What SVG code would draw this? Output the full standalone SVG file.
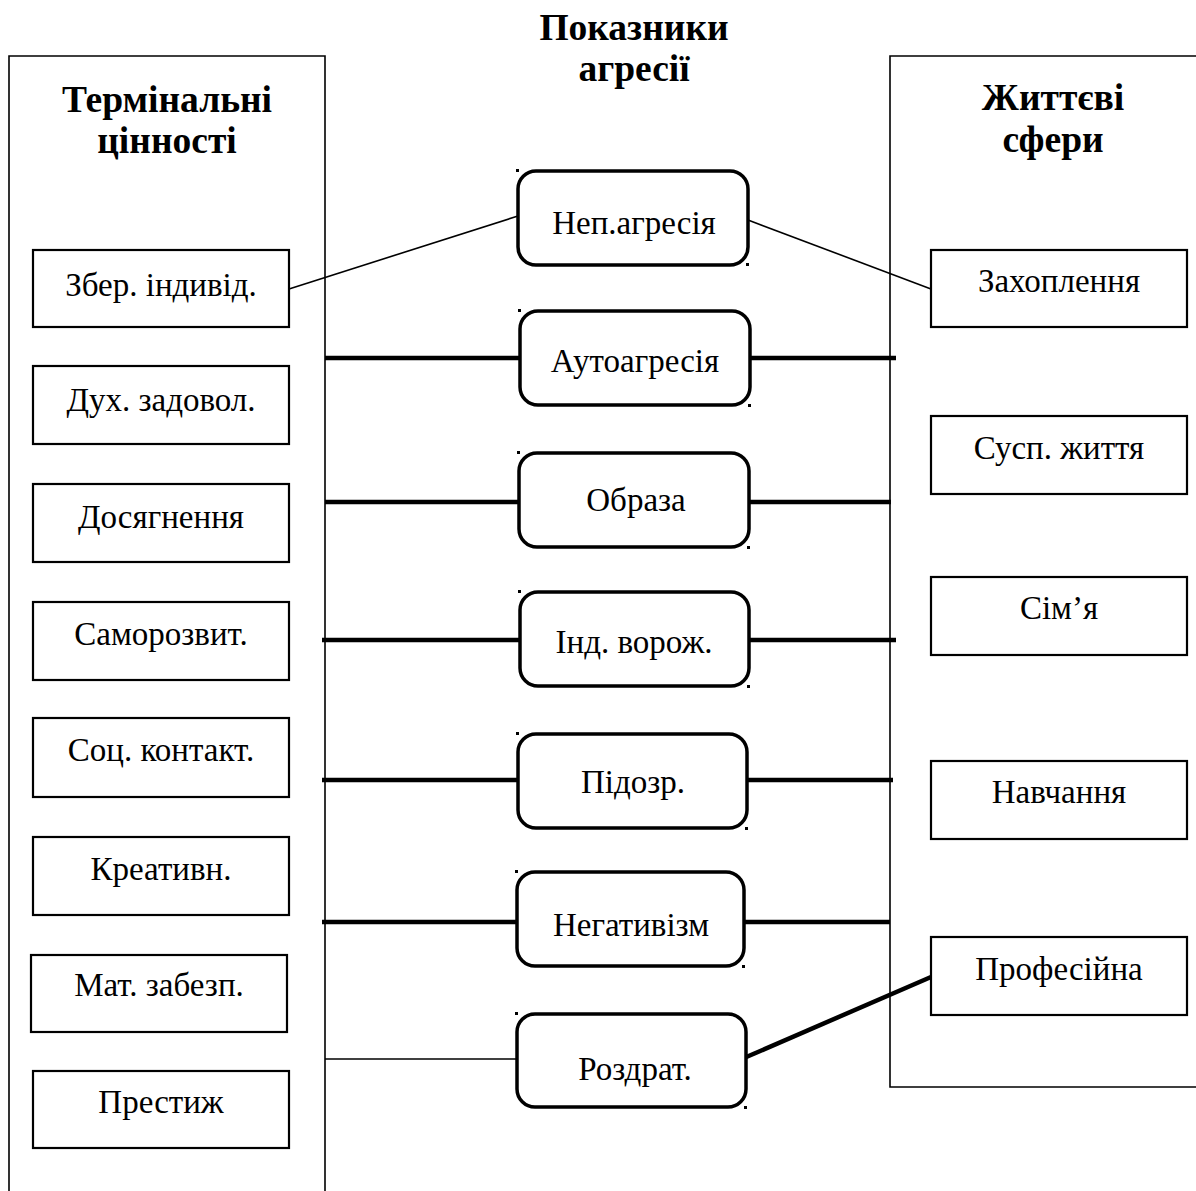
<svg xmlns="http://www.w3.org/2000/svg" width="1196" height="1191" viewBox="0 0 1196 1191">
<style>
.bg{fill:#fff}
.panel{fill:none;stroke:#000;stroke-width:1.6}
.box{fill:#fff;stroke:#000;stroke-width:2.2}
.rbox{fill:#fff;stroke:#000;stroke-width:3.5}
.dot{fill:#000}
.t{font-family:"Liberation Serif","Times New Roman",serif;font-size:33px;fill:#000;text-anchor:middle}
.h{font-family:"Liberation Serif","Times New Roman",serif;font-size:37.5px;font-weight:bold;fill:#000;text-anchor:middle}
.thin{stroke:#000;stroke-width:1.6;fill:none}
.thick{stroke:#000;stroke-width:4.5;fill:none}
</style>
<rect class="bg" x="0" y="0" width="1196" height="1191"/>
<g id="panel-left">
<path class="panel" d="M9,1195 V56 H325 V1195"/>
<text class="h" x="167" y="112">Термінальні</text>
<text class="h" x="167" y="153">цінності</text>
</g>
<g id="panel-right">
<path class="panel" d="M1200,1087 H890 V56 H1200"/>
<text class="h" x="1053" y="110">Життєві</text>
<text class="h" x="1053" y="152">сфери</text>
</g>
<g id="title">
<text class="h" x="634" y="40">Показники</text>
<text class="h" x="634" y="81">агресії</text>
</g>
<g id="connectors">
<line class="thin" x1="289" y1="289" x2="518" y2="216"/>
<line class="thin" x1="748" y1="220" x2="931" y2="289"/>
<line class="thick" x1="325" y1="358" x2="524" y2="358"/>
<line class="thick" x1="749" y1="358" x2="896" y2="358"/>
<line class="thick" x1="325" y1="502" x2="523" y2="502"/>
<line class="thick" x1="747" y1="502" x2="891" y2="502"/>
<line class="thick" x1="322" y1="640" x2="524" y2="640"/>
<line class="thick" x1="748" y1="640" x2="896" y2="640"/>
<line class="thick" x1="322" y1="780" x2="522" y2="780"/>
<line class="thick" x1="746" y1="780" x2="893" y2="780"/>
<line class="thick" x1="322" y1="922" x2="521" y2="922"/>
<line class="thick" x1="743" y1="922" x2="890" y2="922"/>
<line class="thin" x1="325" y1="1059" x2="517" y2="1059"/>
<line class="thick" x1="744" y1="1058" x2="931" y2="977"/>
</g>
<g id="n-zber"><rect class="box" x="33" y="250" width="256" height="77"/><text class="t" x="161" y="296">Збер. індивід.</text></g>
<g id="n-dukh"><rect class="box" x="33" y="366" width="256" height="78"/><text class="t" x="161" y="411">Дух. задовол.</text></g>
<g id="n-dosyag"><rect class="box" x="33" y="484" width="256" height="78"/><text class="t" x="161" y="528">Досягнення</text></g>
<g id="n-samoroz"><rect class="box" x="33" y="602" width="256" height="78"/><text class="t" x="161" y="645">Саморозвит.</text></g>
<g id="n-sots"><rect class="box" x="33" y="718" width="256" height="79"/><text class="t" x="161" y="761">Соц. контакт.</text></g>
<g id="n-kreat"><rect class="box" x="33" y="837" width="256" height="78"/><text class="t" x="161" y="880">Креативн.</text></g>
<g id="n-mat"><rect class="box" x="31" y="955" width="256" height="77"/><text class="t" x="159" y="996">Мат. забезп.</text></g>
<g id="n-prestyzh"><rect class="box" x="33" y="1071" width="256" height="77"/><text class="t" x="161" y="1113">Престиж</text></g>
<g id="n-zakhopl"><rect class="box" x="931" y="250" width="256" height="77"/><text class="t" x="1059" y="292">Захоплення</text></g>
<g id="n-susp"><rect class="box" x="931" y="416" width="256" height="78"/><text class="t" x="1059" y="459">Сусп. життя</text></g>
<g id="n-simya"><rect class="box" x="931" y="577" width="256" height="78"/><text class="t" x="1059" y="619">Сім’я</text></g>
<g id="n-navch"><rect class="box" x="931" y="761" width="256" height="78"/><text class="t" x="1059" y="803">Навчання</text></g>
<g id="n-prof"><rect class="box" x="931" y="937" width="256" height="78"/><text class="t" x="1059" y="980">Професійна</text></g>
<g id="n-nep"><rect class="rbox" x="518" y="171" width="230" height="94" rx="18"/><rect class="dot" x="516" y="169" width="3" height="3"/><rect class="dot" x="746" y="263" width="3" height="3"/><text class="t" x="634" y="234">Неп.агресія</text></g>
<g id="n-auto"><rect class="rbox" x="520" y="311" width="230" height="94" rx="18"/><rect class="dot" x="518" y="309" width="3" height="3"/><rect class="dot" x="748" y="404" width="3" height="3"/><text class="t" x="635" y="372">Аутоагресія</text></g>
<g id="n-obraza"><rect class="rbox" x="519" y="453" width="230" height="94" rx="18"/><rect class="dot" x="517" y="451" width="3" height="3"/><rect class="dot" x="747" y="546" width="3" height="3"/><text class="t" x="636" y="511">Образа</text></g>
<g id="n-ind"><rect class="rbox" x="520" y="592" width="229" height="94" rx="18"/><rect class="dot" x="518" y="590" width="3" height="3"/><rect class="dot" x="747" y="685" width="3" height="3"/><text class="t" x="634" y="653">Інд. ворож.</text></g>
<g id="n-pidozr"><rect class="rbox" x="518" y="734" width="229" height="94" rx="18"/><rect class="dot" x="516" y="732" width="3" height="3"/><rect class="dot" x="745" y="827" width="3" height="3"/><text class="t" x="633" y="793">Підозр.</text></g>
<g id="n-neg"><rect class="rbox" x="517" y="872" width="227" height="94" rx="18"/><rect class="dot" x="515" y="870" width="3" height="3"/><rect class="dot" x="742" y="965" width="3" height="3"/><text class="t" x="631" y="936">Негативізм</text></g>
<g id="n-rozdr"><rect class="rbox" x="517" y="1014" width="229" height="93" rx="18"/><rect class="dot" x="515" y="1012" width="3" height="3"/><rect class="dot" x="744" y="1106" width="3" height="3"/><text class="t" x="635" y="1080">Роздрат.</text></g>
</svg>
